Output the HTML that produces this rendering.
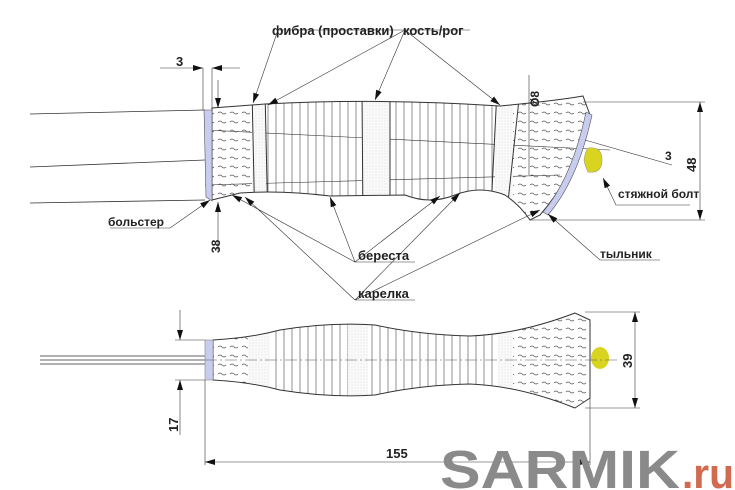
<!DOCTYPE html>
<html><head><meta charset="utf-8"><style>
html,body{margin:0;padding:0;background:#fff;}
svg{display:block}
text{font-family:"Liberation Sans",sans-serif;font-weight:bold;fill:#222}
</style></head><body>
<svg width="735" height="490" viewBox="0 0 735 490" xmlns="http://www.w3.org/2000/svg">
<defs>
<marker id="ar" viewBox="0 0 10 6" refX="10" refY="3" markerWidth="10" markerHeight="6" markerUnits="userSpaceOnUse" orient="auto-start-reverse"><path d="M0 0 L10 3 L0 6 Z" fill="#111"/></marker>
<pattern id="bir" width="12" height="9" patternUnits="userSpaceOnUse">
<path d="M2 5 q2 -2 4 0 t4 0" stroke="#555" stroke-width="0.7" fill="none"/>
</pattern>
<pattern id="dot" width="3" height="3" patternUnits="userSpaceOnUse">
<rect width="3" height="3" fill="#fafafa"/><circle cx="1" cy="1" r="0.4" fill="#bbb"/>
</pattern>
<pattern id="str" width="8" height="10" patternUnits="userSpaceOnUse">
<line x1="4" y1="0" x2="4" y2="10" stroke="#444" stroke-width="0.6"/>
</pattern>
<clipPath id="c1"><path id="h1" d="M212 108 L265 104 Q380 98 500 106 L520 104 Q560 100 583 96 L590 115 Q575 175 540 215 L530 220 Q520 205 505 195 Q480 185 455 195 Q430 205 405 195 L330 196 Q280 190 240 193 L212 200 Z"/></clipPath>
<clipPath id="c2"><path d="M213 340 Q250 338 280 330 Q330 322 375 325 Q420 335 470 336 Q520 334 575 313 L590 320 L590 398 L575 408 Q520 386 470 384 Q420 385 375 395 Q330 398 280 390 Q250 382 213 380 Z"/></clipPath>
</defs>
<g stroke="#333" stroke-width="0.8" fill="none">
<line x1="30" y1="114" x2="205" y2="110"/>
<line x1="30" y1="203" x2="205" y2="200"/>
<line x1="30" y1="167" x2="205" y2="160"/>
<line x1="205" y1="130" x2="610" y2="150" stroke-width="0.6"/>
<line x1="205" y1="185" x2="560" y2="175" stroke-width="0.6"/>
</g>
<g clip-path="url(#c1)">
<rect x="212" y="90" width="40" height="140" fill="url(#bir)"/>
<rect x="252" y="90" width="14" height="140" fill="url(#dot)"/>
<rect x="266" y="90" width="96" height="140" fill="url(#str)"/>
<rect x="362" y="90" width="28" height="140" fill="url(#dot)"/>
<rect x="390" y="90" width="105" height="140" fill="url(#str)"/>
<rect x="495" y="90" width="18" height="140" fill="url(#dot)"/>
<rect x="513" y="90" width="80" height="140" fill="url(#bir)"/>
<g stroke="#333" stroke-width="1"><line x1="252" y1="90" x2="255" y2="230"/><line x1="265" y1="90" x2="268" y2="230"/><line x1="362" y1="90" x2="363" y2="230"/><line x1="390" y1="90" x2="390" y2="230"/><line x1="497" y1="90" x2="490" y2="230"/><line x1="520" y1="90" x2="505" y2="230"/></g>
</g>
<use href="#h1" fill="none" stroke="#333" stroke-width="1"/>
<path d="M204 110 L212 110 L212 201 L206 197 Z" fill="#c8cdf0" stroke="#555" stroke-width="0.6"/>
<path d="M586 112 L592 115 Q578 180 548 215 L543 212 Q572 178 586 112 Z" fill="#c8cdf0" stroke="#555" stroke-width="0.6"/>
<path d="M588 148 Q602 146 602 160 Q602 174 588 172 Q585 166 584 160 Q585 152 588 148Z" fill="#d8d420" stroke="#998" stroke-width="0.6"/>
<g stroke="#333" stroke-width="0.6" fill="none">
<line x1="583" y1="102" x2="705" y2="102"/><line x1="530" y1="220" x2="705" y2="220"/>
<line x1="700" y1="102" x2="700" y2="220" marker-start="url(#ar)" marker-end="url(#ar)"/>
<line x1="203" y1="68" x2="203" y2="110"/><line x1="212" y1="68" x2="212" y2="110"/>
<line x1="160" y1="68" x2="203" y2="68" marker-end="url(#ar)"/><line x1="240" y1="68" x2="212" y2="68" marker-end="url(#ar)"/>
<line x1="218" y1="80" x2="218" y2="108" marker-end="url(#ar)"/>
<line x1="218" y1="250" x2="218" y2="202" marker-end="url(#ar)"/>
<line x1="529" y1="75" x2="529" y2="175"/>
<line x1="585" y1="140" x2="672" y2="165"/>
</g>
<g stroke="#333" stroke-width="0.6" fill="none" marker-start="url(#ar)">
<polyline points="603,178 616,205 690,205"/>
<polyline points="548,214 600,260 660,260"/>
<polyline points="210,200 170,228 110,228"/>
<polyline points="253,103 278,30 470,30"/>
<polyline points="268,105 405,30"/><polyline points="500,105 405,30"/><polyline points="375,100 405,30"/>
<polyline points="232,195 355,262"/><polyline points="330,197 355,262"/><polyline points="440,196 355,262 415,262"/>
<polyline points="245,197 355,300"/><polyline points="460,193 355,300"/><polyline points="540,210 355,300 415,300"/>
</g>
<text x="272" y="35" font-size="13">фибра (проставки)</text>
<text x="403" y="35" font-size="13">кость/рог</text>
<text x="176" y="66" font-size="13">3</text>
<text x="108" y="226" font-size="12">больстер</text>
<text x="358" y="260" font-size="13">береста</text>
<text x="358" y="298" font-size="13">карелка</text>
<text x="618" y="198" font-size="12">стяжной болт</text>
<text x="600" y="258" font-size="12">тыльник</text>
<text x="665" y="160" font-size="12">3</text>
<text font-size="13" transform="translate(696 172) rotate(-90)">48</text>
<text font-size="12" transform="translate(220 253) rotate(-90)">38</text>
<text font-size="12" transform="translate(539 107) rotate(-90)">Ø8</text>
<g stroke="#333" stroke-width="0.7">
<line x1="40" y1="356" x2="205" y2="356"/><line x1="40" y1="360" x2="205" y2="360"/><line x1="40" y1="364" x2="205" y2="364"/>
</g>
<g clip-path="url(#c2)">
<rect x="213" y="300" width="35" height="110" fill="url(#bir)"/>
<rect x="248" y="300" width="22" height="110" fill="url(#dot)"/>
<rect x="270" y="300" width="78" height="110" fill="url(#str)"/>
<rect x="348" y="300" width="20" height="110" fill="url(#dot)"/>
<rect x="368" y="300" width="130" height="110" fill="url(#str)"/>
<rect x="498" y="300" width="15" height="110" fill="url(#dot)"/>
<rect x="513" y="300" width="80" height="110" fill="url(#bir)"/>
</g>
<path d="M213 340 Q250 338 280 330 Q330 322 375 325 Q420 335 470 336 Q520 334 575 313 L590 320 L590 398 L575 408 Q520 386 470 384 Q420 385 375 395 Q330 398 280 390 Q250 382 213 380 Z" fill="none" stroke="#333"/>
<rect x="205" y="340" width="8" height="40" fill="#c8cdf0" stroke="#777" stroke-width="0.5"/>
<ellipse cx="600" cy="358" rx="9" ry="11" fill="#d8d420"/>
<line x1="205" y1="360" x2="620" y2="360" stroke="#555" stroke-width="0.5" stroke-dasharray="12 3 2 3"/>
<g stroke="#333" stroke-width="0.6" fill="none">
<line x1="175" y1="340" x2="205" y2="340"/><line x1="175" y1="380" x2="205" y2="380"/>
<line x1="180" y1="310" x2="180" y2="340" marker-end="url(#ar)"/>
<line x1="180" y1="435" x2="180" y2="380" marker-end="url(#ar)"/>
<line x1="205" y1="380" x2="205" y2="465"/><line x1="590" y1="395" x2="590" y2="465"/>
<line x1="205" y1="462" x2="590" y2="462" marker-start="url(#ar)" marker-end="url(#ar)"/>
<line x1="585" y1="312" x2="640" y2="312"/><line x1="585" y1="408" x2="640" y2="408"/>
<line x1="635" y1="312" x2="635" y2="408" marker-start="url(#ar)" marker-end="url(#ar)"/>
</g>
<text x="386" y="458" font-size="13">155</text>
<text font-size="13" transform="translate(178 432) rotate(-90)">17</text>
<text font-size="13" transform="translate(632 368) rotate(-90)">39</text>
<text x="440" y="488" font-size="54" textLength="240" lengthAdjust="spacingAndGlyphs" style="fill:#8a8a8a;font-weight:bold">SARMIK</text>
<text x="682" y="488" font-size="42" textLength="52" lengthAdjust="spacingAndGlyphs" style="fill:#d06a50;font-weight:bold">.ru</text>
</svg>
</body></html>
